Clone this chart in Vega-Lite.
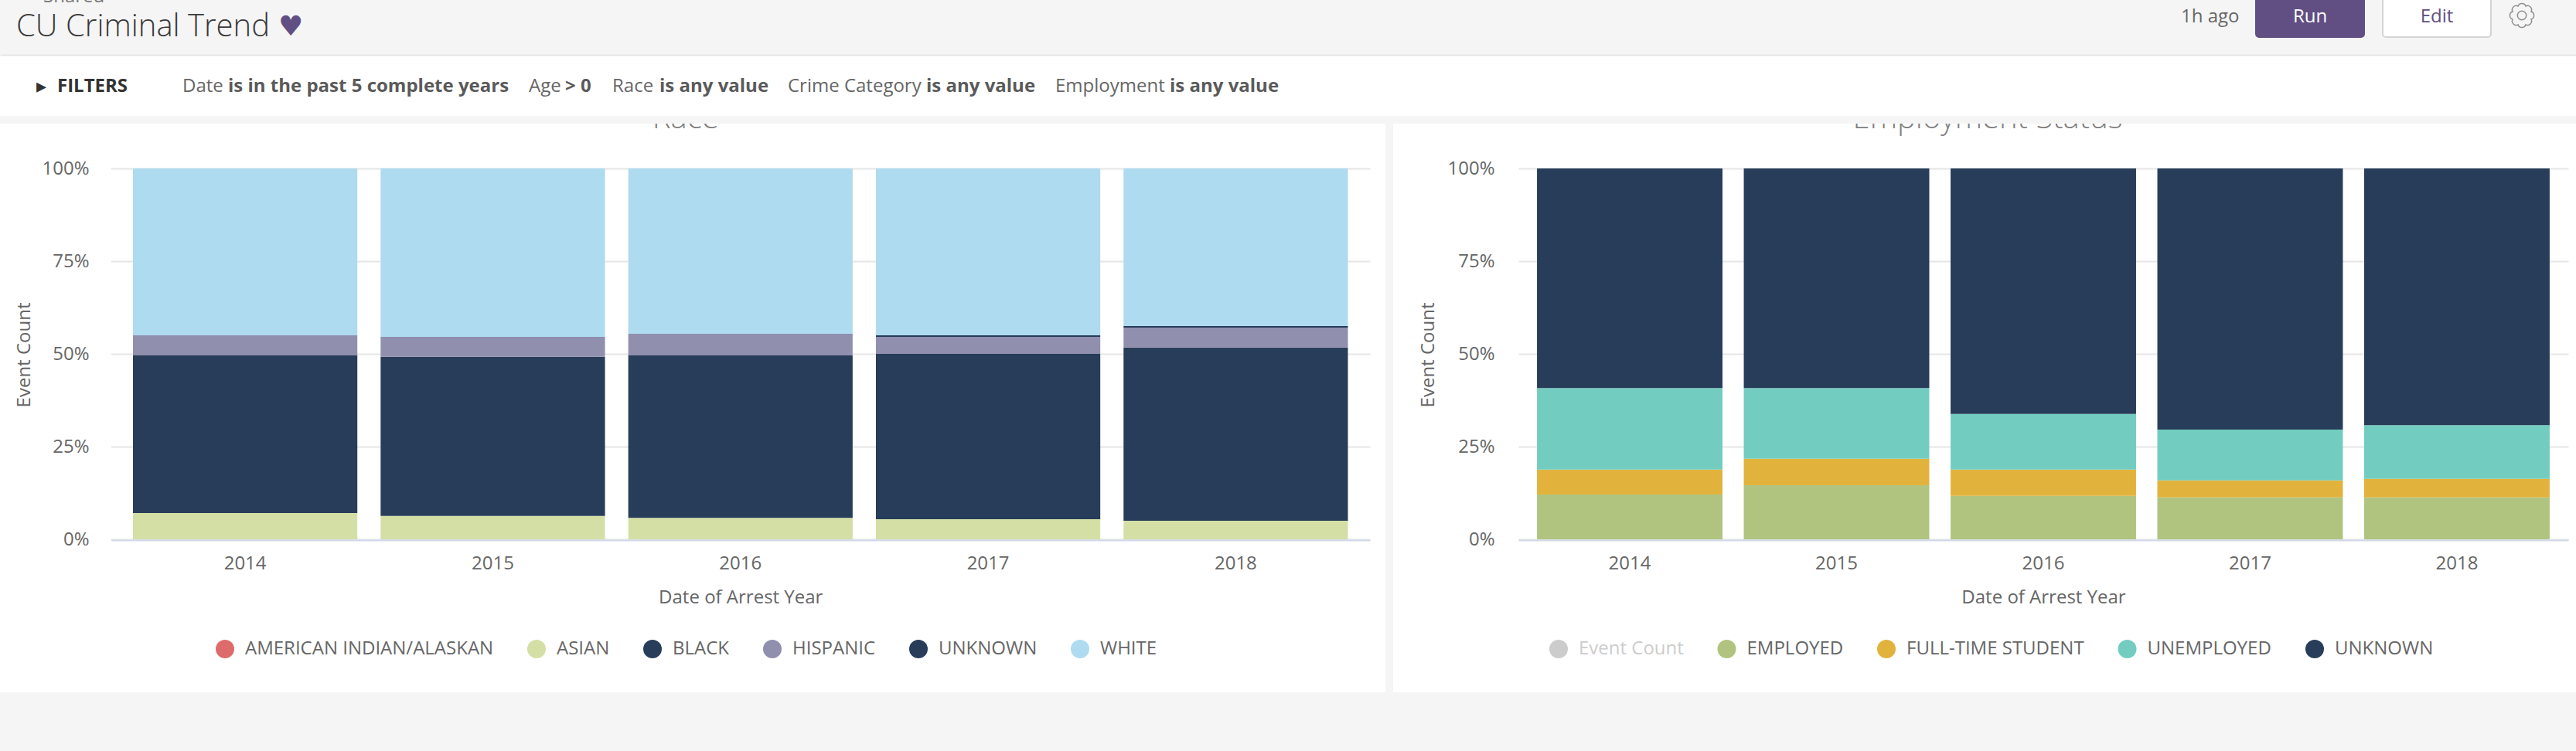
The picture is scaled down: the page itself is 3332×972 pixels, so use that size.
{"$schema":"https://vega.github.io/schema/vega-lite/v6.json","background":"#f5f5f5","padding":{"left":0,"top":0,"right":0,"bottom":76},"spacing":10,"resolve":{"scale":{"color":"independent"},"legend":{"color":"independent"}},"config":{"font":"Open Sans","view":{"stroke":null},"axis":{"labelFont":"Open Sans","titleFont":"Open Sans"},"legend":{"labelFont":"Open Sans"}},"datasets":{"race":[{"year":"2014","race":"ASIAN","pct":7.1},{"year":"2014","race":"BLACK","pct":42.5},{"year":"2014","race":"HISPANIC","pct":5.4},{"year":"2014","race":"WHITE","pct":45},{"year":"2015","race":"ASIAN","pct":6.3},{"year":"2015","race":"BLACK","pct":42.9},{"year":"2015","race":"HISPANIC","pct":5.4},{"year":"2015","race":"WHITE","pct":45.4},{"year":"2016","race":"ASIAN","pct":5.8},{"year":"2016","race":"BLACK","pct":43.8},{"year":"2016","race":"HISPANIC","pct":5.8},{"year":"2016","race":"WHITE","pct":44.6},{"year":"2017","race":"ASIAN","pct":5.4},{"year":"2017","race":"BLACK","pct":44.6},{"year":"2017","race":"HISPANIC","pct":4.6},{"year":"2017","race":"UNKNOWN","pct":0.4},{"year":"2017","race":"WHITE","pct":45},{"year":"2018","race":"ASIAN","pct":5},{"year":"2018","race":"BLACK","pct":46.7},{"year":"2018","race":"HISPANIC","pct":5.4},{"year":"2018","race":"UNKNOWN","pct":0.4},{"year":"2018","race":"WHITE","pct":42.5}],"employment":[{"year":"2014","status":"EMPLOYED","pct":12.1},{"year":"2014","status":"FULL-TIME STUDENT","pct":6.7},{"year":"2014","status":"UNEMPLOYED","pct":22},{"year":"2014","status":"UNKNOWN","pct":59.2},{"year":"2015","status":"EMPLOYED","pct":14.6},{"year":"2015","status":"FULL-TIME STUDENT","pct":7.1},{"year":"2015","status":"UNEMPLOYED","pct":19.1},{"year":"2015","status":"UNKNOWN","pct":59.2},{"year":"2016","status":"EMPLOYED","pct":11.7},{"year":"2016","status":"FULL-TIME STUDENT","pct":7.1},{"year":"2016","status":"UNEMPLOYED","pct":15},{"year":"2016","status":"UNKNOWN","pct":66.2},{"year":"2017","status":"EMPLOYED","pct":11.3},{"year":"2017","status":"FULL-TIME STUDENT","pct":4.6},{"year":"2017","status":"UNEMPLOYED","pct":13.7},{"year":"2017","status":"UNKNOWN","pct":70.4},{"year":"2018","status":"EMPLOYED","pct":11.3},{"year":"2018","status":"FULL-TIME STUDENT","pct":5},{"year":"2018","status":"UNEMPLOYED","pct":14.5},{"year":"2018","status":"UNKNOWN","pct":69.2}]},"vconcat":[{"bounds":"flush","spacing":0,"resolve":{"scale":{"color":"independent"},"legend":{"color":"independent"}},"vconcat":[{"width":3332,"height":71,"data":{"values":[{"item":"Shared","slot":0},{"item":"CU Criminal Trend","slot":1},{"item":"♥","slot":2},{"item":"1h ago","slot":3},{"item":"Run","slot":4,"slotEnd":5,"mid":6},{"item":"Edit","slot":7,"slotEnd":8,"mid":9},{"item":"gear","slot":10}]},"encoding":{"x":{"field":"slot","type":"quantitative","axis":null,"scale":{"domain":[0,1,2,3,4,5,6,7,8,9,10],"range":[56,21,360,2821,2918,3058,2988,3082,3222,3152,3262]}},"y":{"field":"slot","type":"quantitative","axis":null,"scale":{"domain":[0,1,2,3,4,5,6,7,8,9,10],"range":[-4,35,35,22,-6,48,22,-6,47,22,20]}}},"layer":[{"transform":[{"filter":"datum.slotEnd"}],"mark":{"type":"rect","clip":true,"cornerRadius":4},"encoding":{"x":{"field":"slot","type":"quantitative"},"x2":{"field":"slotEnd"},"y":{"datum":4},"y2":{"datum":5},"color":{"field":"item","type":"nominal","legend":null,"scale":{"domain":["Run","Edit"],"range":["#614f84","#ffffff"]}},"stroke":{"field":"item","type":"nominal","legend":null,"scale":{"domain":["Run","Edit"],"range":["#614f84","#d4d4d4"]}},"strokeWidth":{"value":2}}},{"transform":[{"filter":"datum.item==='Shared'"}],"mark":{"type":"text","clip":true,"align":"left","baseline":"middle","fontSize":24,"fill":"#777777"},"encoding":{"text":{"field":"item"}}},{"transform":[{"filter":"datum.item==='CU Criminal Trend'"}],"mark":{"type":"text","clip":true,"align":"left","baseline":"middle","fontSize":40,"fontWeight":300,"fill":"#3a3a3a"},"encoding":{"text":{"field":"item"}}},{"transform":[{"filter":"datum.item==='♥'"}],"mark":{"type":"text","clip":true,"align":"left","baseline":"middle","fontSize":36,"font":"DejaVu Sans","fill":"#614f84"},"encoding":{"text":{"field":"item"}}},{"transform":[{"filter":"datum.item==='1h ago'"}],"mark":{"type":"text","clip":true,"align":"left","baseline":"middle","fontSize":24,"fill":"#666666"},"encoding":{"text":{"field":"item"}}},{"transform":[{"filter":"datum.slotEnd"}],"mark":{"type":"text","clip":true,"align":"center","baseline":"middle","fontSize":24},"encoding":{"x":{"field":"mid","type":"quantitative"},"y":{"field":"mid","type":"quantitative"},"text":{"field":"item"},"color":{"field":"item","type":"nominal","legend":null,"scale":{"domain":["Run","Edit"],"range":["#ffffff","#614f84"]}}}},{"transform":[{"filter":"datum.item==='gear'"}],"mark":{"type":"point","clip":true,"filled":false,"stroke":"#666666","strokeWidth":1.5,"size":1000,"shape":"M.758,-.314A.33,.33 0 0 1 .758,.314A.33,.33 0 0 1 .314,.758A.33,.33 0 0 1 -.314,.758A.33,.33 0 0 1 -.758,.314A.33,.33 0 0 1 -.758,-.314A.33,.33 0 0 1 -.314,-.758A.33,.33 0 0 1 .314,-.758A.33,.33 0 0 1 .758,-.314ZM.36,0A.36,.36 0 1 1 -.36,0A.36,.36 0 1 1 .36,0Z"}}],"resolve":{"scale":{"color":"independent","stroke":"independent"}}},{"width":3332,"height":79,"view":{"fill":"#ffffff","stroke":null},"data":{"values":[{"text":"▸","bold":true,"slot":0},{"text":"FILTERS","bold":true,"slot":1},{"text":"Date","bold":false,"slot":2},{"text":"is in the past 5 complete years","bold":true,"slot":3},{"text":"Age","bold":false,"slot":4},{"text":"> 0","bold":true,"slot":5},{"text":"Race","bold":false,"slot":6},{"text":"is any value","bold":true,"slot":7},{"text":"Crime Category","bold":false,"slot":8},{"text":"is any value","bold":true,"slot":9},{"text":"Employment","bold":false,"slot":10},{"text":"is any value","bold":true,"slot":11}]},"encoding":{"x":{"field":"slot","type":"quantitative","axis":{"orient":"top","domainColor":"#e5e5e5","domainWidth":2,"labels":false,"ticks":false,"grid":false,"title":null},"scale":{"domain":[-1,0,1,2,3,4,5,6,7,8,9,10,11,12],"range":[0,47,74,236,295,684,731,792,853,1019,1198,1365,1513,3332]}},"y":{"datum":0,"axis":null,"scale":{"domain":[0,1],"range":[41,0]}},"text":{"field":"text"}},"layer":[{"transform":[{"filter":"datum.bold && datum.slot>1"}],"mark":{"type":"text","align":"left","baseline":"middle","fontSize":24,"fontWeight":"bold","fill":"#5a5a5a"}},{"transform":[{"filter":"!datum.bold"}],"mark":{"type":"text","align":"left","baseline":"middle","fontSize":24,"fill":"#666666"}},{"transform":[{"filter":"datum.slot===1"}],"mark":{"type":"text","align":"left","baseline":"middle","fontSize":24,"fontWeight":"bold","fill":"#333333"}},{"transform":[{"filter":"datum.slot===0"}],"mark":{"type":"text","align":"left","baseline":"middle","fontSize":26,"fill":"#333333","font":"DejaVu Sans"}}]}]},{"bounds":"flush","spacing":10,"resolve":{"scale":{"color":"independent"},"legend":{"color":"independent"}},"hconcat":[{"width":1792,"height":736,"view":{"fill":"#ffffff","stroke":null},"layer":[{"data":{"name":"race"},"mark":{"type":"bar"},"encoding":{"x":{"field":"year","type":"nominal","scale":{"range":[143.5,1772],"paddingInner":0.094,"paddingOuter":0.089},"axis":{"orient":"bottom","offset":-197,"title":"Date of Arrest Year","titleFontSize":24,"titleFontWeight":"normal","titleColor":"#666666","titlePadding":20,"labelFontSize":24,"labelColor":"#666666","labelAngle":0,"labelPadding":18,"ticks":false,"domainColor":"#d0d8ea","domainWidth":2,"grid":false}},"y":{"aggregate":"sum","field":"pct","type":"quantitative","stack":"zero","scale":{"domain":[0,100],"range":[538,58]},"axis":{"orient":"left","offset":-143,"title":"Event Count","titleFontSize":24,"titleFontWeight":"normal","titleColor":"#666666","titleX":-100,"titleY":299,"titleAnchor":"middle","labelFontSize":24,"labelColor":"#666666","labelPadding":28,"ticks":false,"domain":false,"values":[0,25,50,75,100],"labelExpr":"datum.value+'%'","grid":true,"gridColor":"#e6e6e6","gridWidth":2}},"color":{"field":"race","type":"nominal","sort":["AMERICAN INDIAN/ALASKAN","ASIAN","BLACK","HISPANIC","UNKNOWN","WHITE"],"scale":{"domain":["AMERICAN INDIAN/ALASKAN","ASIAN","BLACK","HISPANIC","UNKNOWN","WHITE"],"range":["#dd6b6b","#d4dfa6","#283d59","#908fae","#283d59","#aedbf0"]},"legend":{"orient":"none","direction":"horizontal","legendX":279,"legendY":668,"columns":6,"title":null,"symbolType":"circle","symbolSize":576,"symbolStrokeWidth":0,"labelFontSize":24,"labelColor":"#666666","labelOffset":14,"labelLimit":1000,"columnPadding":43}},"order":{"field":"race"}}},{"data":{"values":[{"label":"Race","year":"2016"}]},"mark":{"type":"text","clip":true,"align":"center","baseline":"alphabetic","fontSize":40,"fontWeight":300,"fill":"#808080","dx":-71,"dy":-52},"encoding":{"x":{"field":"year","type":"nominal"},"y":{"datum":100},"text":{"field":"label"}}}]},{"width":1530,"height":736,"view":{"fill":"#ffffff","stroke":null},"layer":[{"data":{"name":"employment"},"mark":{"type":"bar"},"encoding":{"x":{"field":"year","type":"nominal","scale":{"range":[162,1520],"paddingInner":0.103,"paddingOuter":0.09},"axis":{"orient":"bottom","offset":-197,"title":"Date of Arrest Year","titleFontSize":24,"titleFontWeight":"normal","titleColor":"#666666","titlePadding":20,"labelFontSize":24,"labelColor":"#666666","labelAngle":0,"labelPadding":18,"ticks":false,"domainColor":"#d0d8ea","domainWidth":2,"grid":false}},"y":{"aggregate":"sum","field":"pct","type":"quantitative","stack":"zero","scale":{"domain":[0,100],"range":[538,58]},"axis":{"orient":"left","offset":-162,"title":"Event Count","titleFontSize":24,"titleFontWeight":"normal","titleColor":"#666666","titleX":-105,"titleY":299,"titleAnchor":"middle","labelFontSize":24,"labelColor":"#666666","labelPadding":31,"ticks":false,"domain":false,"values":[0,25,50,75,100],"labelExpr":"datum.value+'%'","grid":true,"gridColor":"#e6e6e6","gridWidth":2}},"color":{"field":"status","type":"nominal","sort":["Event Count","EMPLOYED","FULL-TIME STUDENT","UNEMPLOYED","UNKNOWN"],"scale":{"domain":["Event Count","EMPLOYED","FULL-TIME STUDENT","UNEMPLOYED","UNKNOWN"],"range":["#cccccc","#b0c47f","#e2b33c","#72cdc0","#283d59"]},"legend":{"orient":"none","direction":"horizontal","legendX":202,"legendY":668,"columns":5,"title":null,"symbolType":"circle","symbolSize":576,"symbolStrokeWidth":0,"labelFontSize":24,"labelColor":"#666666","labelOffset":14,"labelLimit":1000,"columnPadding":43.5,"encode":{"labels":{"update":{"fill":{"signal":"datum.value==='Event Count'?'#cccccc':'#666666'"}}}}}},"order":{"field":"status"}}},{"data":{"values":[{"label":"Employment Status","year":"2016"}]},"mark":{"type":"text","clip":true,"align":"center","baseline":"alphabetic","fontSize":40,"fontWeight":300,"fill":"#808080","dx":-72,"dy":-52},"encoding":{"x":{"field":"year","type":"nominal"},"y":{"datum":100},"text":{"field":"label"}}}]}]}]}
